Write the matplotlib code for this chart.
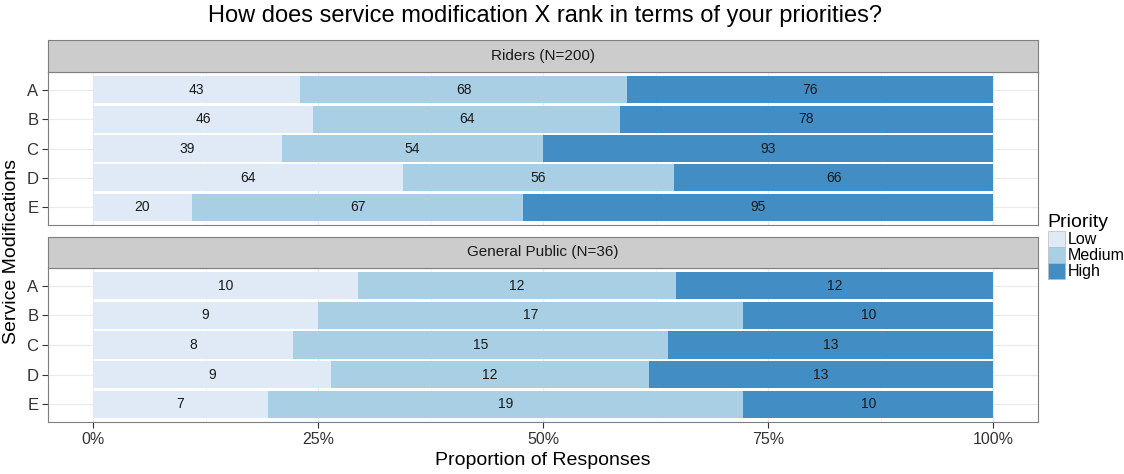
import numpy as np
import matplotlib.pyplot as plt
from matplotlib.patches import Patch

plt.rcParams['font.family'] = ['Liberation Sans', 'DejaVu Sans']

# Counts per service modification (Low, Medium, High)
mods = ['A', 'B', 'C', 'D', 'E']
riders_low = [43, 46, 39, 64, 20]
riders_med = [68, 64, 54, 56, 67]
riders_high = [76, 78, 93, 66, 95]
public_low = [10, 9, 8, 9, 7]
public_med = [12, 17, 15, 12, 19]
public_high = [12, 10, 13, 13, 10]
levels = ['Low', 'Medium', 'High']
colors = ['#dfeaf6', '#a9cfe5', '#428dc4']
panels = [('Riders (N=200)', [riders_low, riders_med, riders_high]),
          ('General Public (N=36)', [public_low, public_med, public_high])]

fig = plt.figure(figsize=(11.24, 4.74), dpi=100)
# title is centred over the panels, not the whole figure
fig.suptitle('How does service modification X rank in terms of your priorities?',
             fontsize=17, y=0.99, x=0.485)

left, width = 0.0427, 0.881
axes_box = [(0.5253, 0.3228, 0.848, 0.0675), (0.1097, 0.325, 0.4346, 0.0654)]

for (label, series), (bot, h, sbot, sh) in zip(panels, axes_box):
    ax = fig.add_axes([left, bot, width, h])
    counts = np.array(series, dtype=float)
    props = counts / counts.sum(axis=0)
    y = np.arange(len(mods))
    start = np.zeros(len(mods))
    for i in range(3):
        ax.barh(y, props[i], left=start, height=0.92, color=colors[i], zorder=2)
        for j in range(len(mods)):
            ax.text(start[j] + props[i][j] / 2, y[j], '%d' % counts[i][j],
                    ha='center', va='center', fontsize=10, color='#1a1a1a', zorder=3)
        start = start + props[i]
    ax.set_xlim(-0.05, 1.05)
    ax.set_ylim(len(mods) - 0.4, -0.6)
    ax.set_yticks(y)
    ax.set_yticklabels(mods, fontsize=12, color='#333333')
    ax.set_xticks([0, 0.25, 0.5, 0.75, 1.0])
    ax.set_xticks([0.125, 0.375, 0.625, 0.875], minor=True)
    ax.grid(which='major', color='#ebebeb', lw=0.9, zorder=0)
    ax.grid(which='minor', axis='x', color='#f5f5f5', lw=0.6, zorder=0)
    ax.tick_params(axis='y', which='both', length=4, color='#333333', pad=3)
    ax.tick_params(axis='x', which='minor', length=0)
    ax.tick_params(axis='x', which='major', length=4, color='#333333')
    for sp in ax.spines.values():
        sp.set_color('#7f7f7f')
    if bot > 0.3:
        ax.tick_params(axis='x', which='major', labelbottom=False, length=0)
    else:
        ax.set_xticklabels(['0%', '25%', '50%', '75%', '100%'], fontsize=11.5,
                           color='#333333')
        ax.set_xlabel('Proportion of Responses', fontsize=14, labelpad=3)

    # facet strip
    sax = fig.add_axes([left, sbot, width, sh])
    sax.set_facecolor('#cccccc')
    sax.set_xticks([])
    sax.set_yticks([])
    for sp in sax.spines.values():
        sp.set_color('#7f7f7f')
    sax.text(0.5, 0.5, label, ha='center', va='center', fontsize=11,
             color='#1a1a1a', transform=sax.transAxes)

fig.text(0.01, 0.47, 'Service Modifications', rotation=90, ha='center',
         va='center', fontsize=14)

handles = [Patch(facecolor=c, edgecolor='#bbbbbb', lw=0.5) for c in colors]
leg = fig.legend(handles, levels, title='Priority', loc='upper left',
                 bbox_to_anchor=(0.925, 0.565), frameon=False, fontsize=11.5,
                 title_fontsize=14, handlelength=1.1, handleheight=1.1,
                 labelspacing=0.0, handletextpad=0.15, borderpad=0)
leg._legend_box.align = 'left'

fig.savefig('out.png', dpi=100)
